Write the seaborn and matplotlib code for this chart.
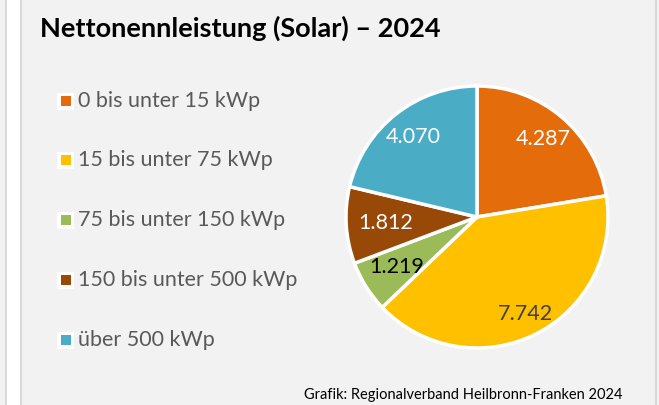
import numpy as np
import matplotlib
matplotlib.use("Agg")
import matplotlib.pyplot as plt
import seaborn as sns
from matplotlib.patches import Rectangle

# Daten
kategorien = ["0 bis unter 15 kWp", "15 bis unter 75 kWp", "75 bis unter 150 kWp",
              "150 bis unter 500 kWp", "über 500 kWp"]
leistung = [4287, 7742, 1219, 1812, 4070]
beschriftung = ["4.287", "7.742", "1.219", "1.812", "4.070"]

farben = sns.color_palette(["#E46C0A", "#FFC000", "#9BBB59", "#984807", "#4BACC6"])
text_farben = ["white", "#404040", "black", "white", "white"]
label_abstand = [0.78, 0.83, 0.72, 0.70, 0.78]

sns.set_style("white")
plt.rcParams["font.family"] = ["Lato", "DejaVu Sans"]

fig = plt.figure(figsize=(6.59, 4.05), dpi=100)
fig.patch.set_facecolor("#f2f2f2")
W, H = 659, 405

# Rahmen links/rechts
fig.patches.append(Rectangle((7 / W, 0), 13 / W, 1, transform=fig.transFigure,
                             facecolor="white", edgecolor="none"))
for x0 in [5, 20, 655]:
    fig.patches.append(Rectangle((x0 / W, 0), 2 / W, 1, transform=fig.transFigure,
                                 facecolor="#d9d9d9", edgecolor="none"))

# Titel
fig.text(40 / W, 1 - 28 / H, "Nettonennleistung (Solar) – 2024", fontsize=19.5,
         fontweight="bold", color="black", va="center", ha="left")

# Kreisdiagramm
cx, cy, r = 477, 405 - 217, 131
ax = fig.add_axes([(cx - r) / W, (cy - r) / H, 2 * r / W, 2 * r / H])
ax.set_facecolor("none")
wedges, _ = ax.pie(leistung, colors=farben, startangle=90, counterclock=False,
                   radius=1, wedgeprops=dict(edgecolor="white", linewidth=2.5,
                                             clip_on=False))
ax.set_xlim(-1, 1)
ax.set_ylim(-1, 1)
ax.set_aspect("equal")
ax.axis("off")

for w, txt, fc, d in zip(wedges, beschriftung, text_farben, label_abstand):
    ang = np.deg2rad((w.theta1 + w.theta2) / 2)
    ax.text(d * np.cos(ang), d * np.sin(ang), txt, color=fc, fontsize=15.5,
            ha="center", va="center")

# Legende
leg_y = [101, 160, 220, 280, 340]
for y, name, c in zip(leg_y, kategorien, farben):
    fig.patches.append(Rectangle((57 / W, 1 - (y + 8.5) / H), 17 / W, 17 / H,
                                 transform=fig.transFigure, facecolor="white",
                                 edgecolor="none"))
    fig.patches.append(Rectangle((61 / W, 1 - (y + 5) / H), 10 / W, 10 / H,
                                 transform=fig.transFigure, facecolor=c,
                                 edgecolor="none"))
    fig.text(78 / W, 1 - y / H, name, fontsize=15.5, color="#595959",
             va="center", ha="left")

# Quelle
fig.text(623 / W, 1 - 395 / H, "Grafik: Regionalverband Heilbronn-Franken 2024",
         fontsize=10.5, color="black", ha="right", va="center")

fig.savefig("out.png", dpi=100, facecolor=fig.get_facecolor())
